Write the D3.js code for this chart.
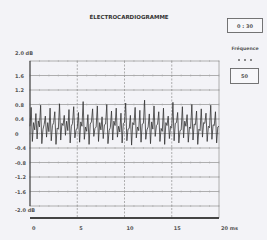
<!DOCTYPE html>
<html>
<head>
<meta charset="utf-8">
<script src="https://cdn.jsdelivr.net/npm/d3@7"></script>
<style>
  body { margin: 0; background: #f3f3f7; }
  svg { display: block; font-family: "DejaVu Sans", sans-serif; }
</style>
</head>
<body>
<div id="chart"></div>
<script>
// chart data
var title = "ÉLECTROCARDIOGRAMME";
var yTicks = [2.0, 1.6, 1.2, 0.8, 0.4, 0, -0.4, -0.8, -1.2, -1.6, -2.0];
var yTickLabels = ["2.0 dB", "1.6", "1.2", "0.8", "0.4", "0", "-0.4", "-0.8", "-1.2", "-1.6", "-2.0 dB"];
var xTicks = [0, 5, 10, 15, 20];
var xTickLabels = ["0", "5", "10", "15", "20 ms"];
var rangeLabel = "0 : 30";
var freqLabel = "Fréquence";
var freqValue = "50";
var sampleStep = 0.125; // ms between samples
var signal = [
  0.20, 0.72, -0.22, 0.30,  0.10, 0.55, -0.15, 0.35,  0.18, 0.78, -0.28, 0.12,  0.25, 0.48, -0.10, 0.30,
  0.05, 0.70, -0.20, 0.22,  0.30, 0.60, -0.30, 0.15,  0.12, 0.82, -0.18, 0.28,  0.22, 0.50, -0.05, 0.34,
  0.08, 0.66, -0.26, 0.20,  0.28, 0.74, -0.12, 0.10,  0.15, 0.58, -0.24, 0.32,  0.20, 0.88, -0.16, 0.18,
  0.06, 0.52, -0.30, 0.26,  0.32, 0.68, -0.08, 0.14,  0.18, 0.76, -0.22, 0.30,  0.10, 0.46, -0.14, 0.24,
  0.26, 0.80, -0.28, 0.08,  0.16, 0.62, -0.18, 0.34,  0.22, 0.70, -0.10, 0.20,  0.04, 0.56, -0.26, 0.28,
  0.30, 0.84, -0.20, 0.12,  0.14, 0.50, -0.32, 0.30,  0.24, 0.72, -0.12, 0.18,  0.08, 0.64, -0.24, 0.26,
  0.28, 0.92, -0.16, 0.10,  0.18, 0.54, -0.28, 0.32,  0.12, 0.76, -0.08, 0.22,  0.26, 0.60, -0.22, 0.14,
  0.06, 0.70, -0.30, 0.30,  0.22, 0.48, -0.14, 0.20,  0.16, 0.86, -0.20, 0.28,  0.30, 0.58, -0.26, 0.08,
  0.10, 0.74, -0.12, 0.34,  0.20, 0.52, -0.24, 0.18,  0.14, 0.80, -0.18, 0.26,  0.24, 0.62, -0.30, 0.12,
  0.08, 0.68, -0.10, 0.30,  0.28, 0.56, -0.22, 0.20,  0.16, 0.78, -0.16, 0.24,  0.22, 0.60, -0.26, 0.18,
  0.20
];

var svg = d3.select("#chart").append("svg")
    .attr("width", 267)
    .attr("height", 240);

var x = d3.scaleLinear().domain([0, 20]).range([30, 219]);
var y = d3.scaleLinear().domain([-2, 2]).range([206, 61]);

svg.append("rect").attr("x", 0).attr("y", 0).attr("width", 267).attr("height", 240).attr("fill", "#f3f3f7");

// title
svg.append("text")
    .attr("x", 129).attr("y", 19)
    .attr("text-anchor", "middle")
    .attr("font-size", 5.5).attr("font-weight", "bold").attr("fill", "#333")
    .text(title);

// horizontal grid
svg.append("g").selectAll("line")
    .data(yTicks)
    .enter().append("line")
    .attr("x1", x(0)).attr("x2", x(20))
    .attr("y1", function (d) { return y(d); })
    .attr("y2", function (d) { return y(d); })
    .attr("stroke", "#9c9c9c").attr("stroke-width", 0.8);

// small minor marks on the horizontal grid
var minor = d3.range(0, 20.01, 1);
svg.append("g").selectAll("g")
    .data(yTicks)
    .enter().append("g")
    .selectAll("line")
    .data(function (d) { return minor.map(function (m) { return { v: d, m: m }; }); })
    .enter().append("line")
    .attr("x1", function (d) { return x(d.m); }).attr("x2", function (d) { return x(d.m); })
    .attr("y1", function (d) { return y(d.v) - 1; }).attr("y2", function (d) { return y(d.v) + 1; })
    .attr("stroke", "#a8a8a8").attr("stroke-width", 0.6);

// vertical grid
svg.append("g").selectAll("line")
    .data(xTicks.slice(1))
    .enter().append("line")
    .attr("x1", function (d) { return x(d); }).attr("x2", function (d) { return x(d); })
    .attr("y1", y(2)).attr("y2", 218)
    .attr("stroke", "#9c9c9c").attr("stroke-width", 0.8)
    .attr("stroke-dasharray", function (d) { return d == 20 ? null : "2,1.5"; });

// left axis
svg.append("line")
    .attr("x1", x(0)).attr("x2", x(0))
    .attr("y1", y(2)).attr("y2", y(-2))
    .attr("stroke", "#555").attr("stroke-width", 1.4);

// y labels
svg.append("g").selectAll("text")
    .data(yTicks)
    .enter().append("text")
    .attr("x", 15)
    .attr("y", function (d, i) {
        if (i == 0) return y(d) - 6;
        if (i == yTicks.length - 1) return y(d) + 6;
        return y(d) + 2;
    })
    .attr("font-size", 5).attr("font-weight", "bold").attr("fill", "#555")
    .text(function (d, i) { return yTickLabels[i]; });

// bottom axis bar
svg.append("line")
    .attr("x1", x(0)).attr("x2", x(20))
    .attr("y1", 218).attr("y2", 218)
    .attr("stroke", "#444").attr("stroke-width", 2);

svg.append("g").selectAll("text")
    .data(xTicks)
    .enter().append("text")
    .attr("x", function (d) { return x(d) + 2; })
    .attr("y", 230)
    .attr("font-size", 5).attr("font-weight", "bold").attr("fill", "#555")
    .text(function (d, i) { return xTickLabels[i]; });

// signal
var line = d3.line()
    .x(function (d, i) { return x(i * sampleStep); })
    .y(function (d) { return y(d); });

svg.append("path")
    .datum(signal)
    .attr("d", line)
    .attr("fill", "none")
    .attr("stroke", "#333")
    .attr("stroke-width", 0.8);

// right panel
svg.append("rect")
    .attr("x", 227.5).attr("y", 18.5).attr("width", 35).attr("height", 14)
    .attr("fill", "#f7f7fa").attr("stroke", "#666").attr("stroke-width", 0.9);
svg.append("text")
    .attr("x", 245).attr("y", 27.5).attr("text-anchor", "middle")
    .attr("font-size", 5).attr("font-weight", "bold").attr("fill", "#555")
    .text(rangeLabel);

svg.append("text")
    .attr("x", 245).attr("y", 50).attr("text-anchor", "middle")
    .attr("font-size", 4.6).attr("font-weight", "bold").attr("fill", "#555")
    .text(freqLabel);
svg.append("g").selectAll("circle")
    .data([0, 1, 2])
    .enter().append("circle")
    .attr("cx", function (d) { return 239 + d * 6; }).attr("cy", 60)
    .attr("r", 1).attr("fill", "#666");

svg.append("rect")
    .attr("x", 230.5).attr("y", 68.5).attr("width", 28).attr("height", 15)
    .attr("fill", "#f7f7fa").attr("stroke", "#666").attr("stroke-width", 0.9);
svg.append("text")
    .attr("x", 244.5).attr("y", 78).attr("text-anchor", "middle")
    .attr("font-size", 5).attr("font-weight", "bold").attr("fill", "#555")
    .text(freqValue);
</script>
</body>
</html>
